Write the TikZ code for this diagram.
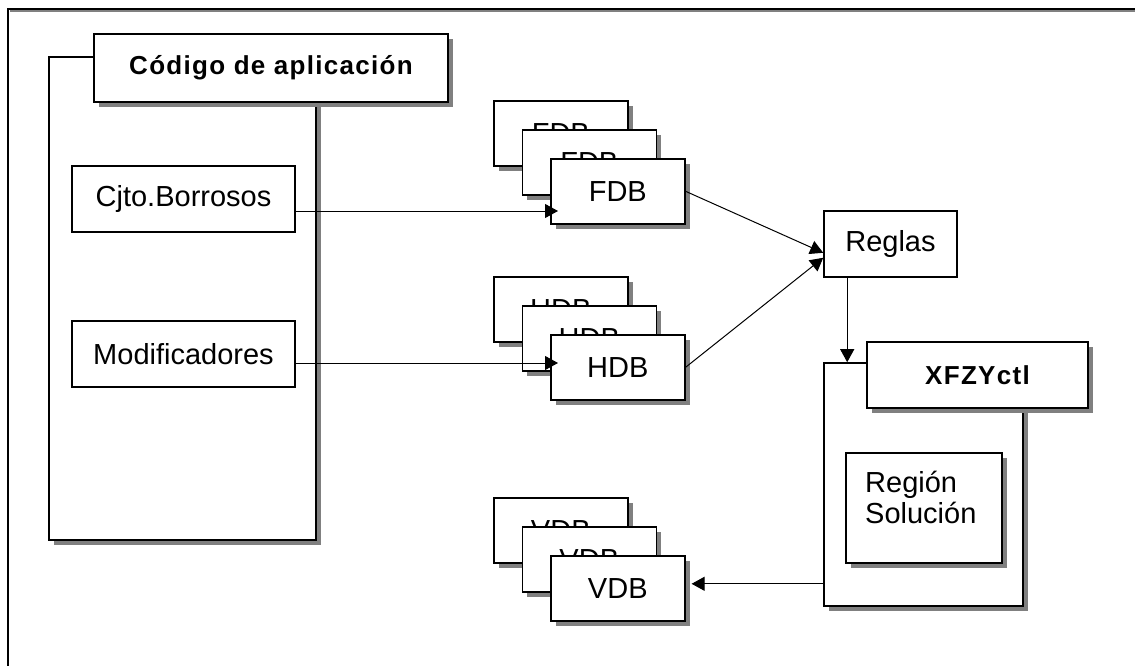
\documentclass[tikz,border=0pt]{standalone}
\usepackage{fontspec}
\setmainfont{Liberation Sans}
\newfontfamily\headfont{Liberation Sans}[LetterSpace=5]
\usetikzlibrary{arrows.meta,shadows}

\begin{document}
\begin{tikzpicture}
[x=1pt,y=-1pt,
  plainDecorate/.style={shape=rectangle,draw,line width=1.6pt,fill=white,inner sep=0pt,
    font=\fontsize{29}{31}\selectfont},
  boxDecorate/.style={plainDecorate,
    drop shadow={shadow xshift=5pt,shadow yshift=-5pt,fill=black!50,opacity=1}},
  stackDecorate/.style={boxDecorate,anchor=north west,minimum width=134pt,minimum height=65pt},
  headDecorate/.style={boxDecorate,font=\headfont\bfseries\fontsize{26}{30}\selectfont},
  lineDecorate/.style={line width=1pt,-{Triangle[length=13pt,width=14pt]}}]
\useasboundingbox (0,0) rectangle (1135,666);
%% outer frame
\draw[line width=2pt,black!50] (10,11.5) -- (1135,11.5);
\draw[line width=2pt] (8,666) -- (8,9) -- (1135,9);
%% application code
\node (appBody) at (182.5,298.5) [boxDecorate,minimum width=267pt,minimum height=483pt] {};
\node (appHead) at (271,68) [headDecorate,minimum width=354pt,minimum height=68pt] {Código de aplicación};
\node (cjto) at (183.5,199) [plainDecorate,minimum width=223pt,minimum height=66pt] {Cjto.Borrosos};
\node (modif) at (183.5,354) [plainDecorate,minimum width=223pt,minimum height=66pt] {Modificadores};
%% stacked bases
\foreach \nodename/\txt/\x/\y in {
  fdbA/FDB/493/100, fdbB/FDB/521.5/129, fdbC/FDB/550/158,
  hdbA/HDB/493/276, hdbB/HDB/521.5/305, hdbC/HDB/550/334,
  vdbA/VDB/493/497, vdbB/VDB/521.5/526, vdbC/VDB/550/555}
{
  \node (\nodename) at (\x,\y) [stackDecorate] {\txt};
}
%% rules and controller
\node (reglas) at (890.5,244) [plainDecorate,minimum width=133pt,minimum height=66pt] {Reglas};
\node (ctlBody) at (923.5,484.5) [boxDecorate,minimum width=199pt,minimum height=243pt] {};
\node (ctlHead) at (977.5,375) [headDecorate,minimum width=221pt,minimum height=66pt] {XFZYctl};
\node (region) at (924,508) [boxDecorate,minimum width=156pt,minimum height=110pt] {};
\node (regionTxt) at (865,523) [anchor=base west,align=left,inner sep=0pt,
  font=\fontsize{29}{31}\selectfont] {Región\\Solución};
%% connection points
\coordinate (cjtoOut) at ([yshift=-12pt]cjto.east);
\coordinate (modifOut) at ([yshift=-9pt]modif.east);
\coordinate (reglasInA) at ([yshift=25pt]reglas.south west);
\coordinate (reglasInB) at ([yshift=20pt]reglas.south west);
\coordinate (reglasOut) at ([xshift=24pt]reglas.south west);
\coordinate (ctlOut) at ([yshift=23pt]ctlBody.south west);
%% edges
\draw[lineDecorate,shorten >=-8pt] (cjtoOut) -- (cjtoOut -| fdbC.west);
\draw[lineDecorate,shorten >=-8pt] (modifOut) -- (modifOut -| hdbC.west);
\draw[lineDecorate] (fdbC.east) -- (reglasInA);
\draw[lineDecorate] (hdbC.east) -- (reglasInB);
\draw[lineDecorate] (reglasOut) -- (reglasOut |- ctlBody.north);
\draw[lineDecorate,shorten >=6pt] (ctlOut) -- (ctlOut -| vdbC.east);
\end{tikzpicture}
\end{document}
